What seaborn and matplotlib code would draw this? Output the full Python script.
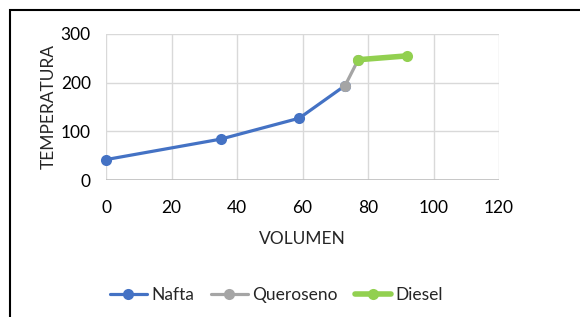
import pandas as pd
import seaborn as sns
from matplotlib import pyplot as plt
from matplotlib.patches import Rectangle

# Curva de destilacion
nafta_vol = [0, 35, 59, 73]
nafta_temp = [42, 84, 127, 194]
queroseno_vol = [73, 77]
queroseno_temp = [194, 247]
diesel_vol = [77, 92]
diesel_temp = [247, 255]

series = ['Nafta', 'Queroseno', 'Diesel']
colores = ['#4472C4', '#A5A5A5', '#92D050']
grosores = [2.3, 2.3, 4.0]

df = pd.concat([
    pd.DataFrame({'VOLUMEN': nafta_vol, 'TEMPERATURA': nafta_temp, 'corte': 'Nafta'}),
    pd.DataFrame({'VOLUMEN': queroseno_vol, 'TEMPERATURA': queroseno_temp, 'corte': 'Queroseno'}),
    pd.DataFrame({'VOLUMEN': diesel_vol, 'TEMPERATURA': diesel_temp, 'corte': 'Diesel'}),
])

sns.set_style('white')
plt.rcParams['font.family'] = ['Lato', 'DejaVu Sans']

fig = plt.figure(figsize=(5.8, 3.17), dpi=100)
ax = fig.add_axes([0.1828, 0.432, 0.6776, 0.461])

for nombre, color, lw in zip(series, colores, grosores):
    sub = df[df['corte'] == nombre]
    sns.lineplot(data=sub, x='VOLUMEN', y='TEMPERATURA', ax=ax, color=color,
                 linewidth=lw, marker='o', markersize=8, markeredgewidth=0,
                 label=nombre, sort=False, clip_on=False, zorder=3)

ax.set_xlim(0, 120)
ax.set_ylim(0, 300)
ax.set_xticks(range(0, 121, 20))
ax.set_yticks(range(0, 301, 100))
ax.grid(True, color='#D9D9D9', linewidth=1)
for s in ax.spines.values():
    s.set_visible(False)
ax.axhline(0, color='#BFBFBF', linewidth=1.2, zorder=1)
ax.tick_params(axis='both', length=0, labelsize=12.5, colors='black')
ax.tick_params(axis='x', pad=14)
ax.tick_params(axis='y', pad=11)
ax.set_xlabel('VOLUMEN', fontsize=12.5, labelpad=11)
ax.set_ylabel('TEMPERATURA', fontsize=12.5, labelpad=3)

ax.legend(loc='center', bbox_to_anchor=(0.477, 0.069), bbox_transform=fig.transFigure,
          ncol=3, frameon=False, fontsize=12.5, handlelength=2.1, columnspacing=1.0,
          handletextpad=0.25)

fig.patches.append(Rectangle((10 / 580, -0.1), 1.2, 1.1 - 10 / 317,
                             transform=fig.transFigure, fill=False,
                             edgecolor='black', linewidth=1.5))

fig.savefig('out.png', dpi=100)
